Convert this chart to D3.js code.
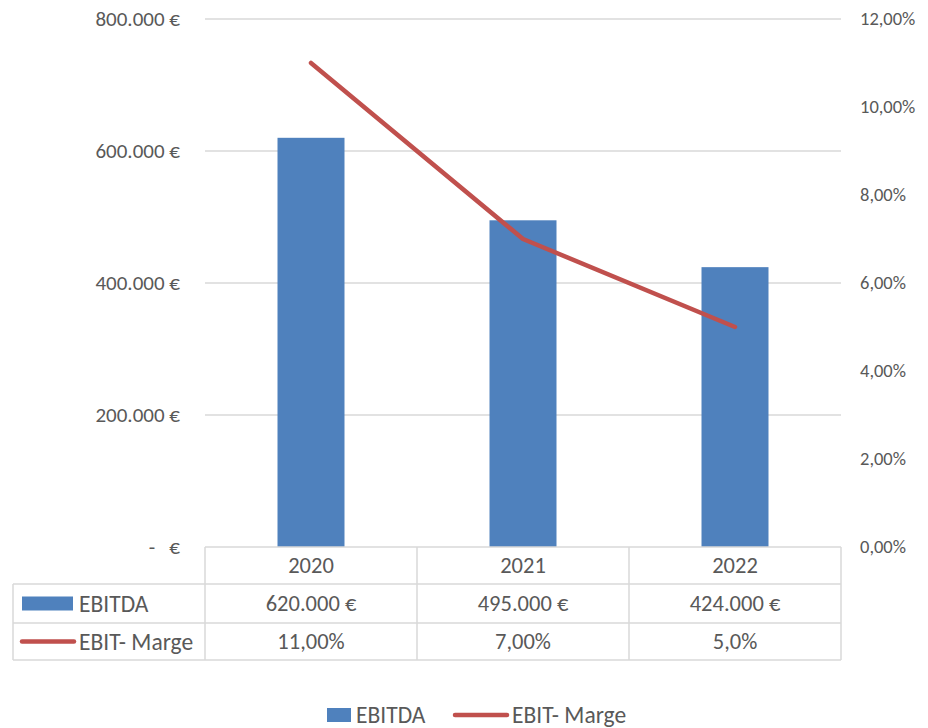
<!DOCTYPE html>
<html lang="de">
<head>
<meta charset="UTF-8">
<title>EBITDA</title>
<style>
body{margin:0;background:#fff;}
text{font-family:Carlito,"Open Sans","Liberation Sans",sans-serif;fill:#595959;}
</style>
</head>
<body>
<script src="https://cdn.jsdelivr.net/npm/d3@7"></script>
<script>
var years=['2020','2021','2022']
var ebitda=[620000,495000,424000]
var marge=[11,7,5]
var ebitdaLabels=['620.000 €','495.000 €','424.000 €']
var margeLabels=['11,00%','7,00%','5,0%']
var leftTicks=[0,200000,400000,600000,800000]
var rightTicks=[0,2,4,6,8,10,12]

var width=928,height=728
var plot={left:205,right:841,top:19,bottom:547}
var barColor='#4f81bd',lineColor='#c0504d',gridColor='#d9d9d9'
var tableFont=22.5,nameFont=23.5

var svg=d3.select('body').append('svg').attr('width',width).attr('height',height)

var x=d3.scaleBand().domain(years).range([plot.left,plot.right]).padding(0)
var y=d3.scaleLinear().domain([0,800000]).range([plot.bottom,plot.top])
var y2=d3.scaleLinear().domain([0,12]).range([plot.bottom,plot.top])

function euro(v){
    if(v===0) return '-   €'
    return d3.format(',')(v).replace(/,/g,'.')+' €'
}
function pct(v){return d3.format('.2f')(v).replace('.',',')+'%'}

// gridlines
svg.append('g').selectAll('line').data(leftTicks.slice(1)).enter().append('line')
    .attr('x1',plot.left).attr('x2',plot.right)
    .attr('y1',d=>y(d)).attr('y2',d=>y(d))
    .attr('stroke',gridColor).attr('stroke-width',1.3)

// left axis
var yAxis=d3.axisLeft(y).tickValues(leftTicks).tickFormat(euro).tickSize(0).tickPadding(25)
var gl=svg.append('g').attr('transform','translate('+plot.left+',0)').call(yAxis)
gl.select('.domain').remove()
gl.selectAll('text').attr('font-size',21).attr('dy','0.32em').style('white-space','pre')

// right axis
var y2Axis=d3.axisRight(y2).tickValues(rightTicks).tickFormat(pct).tickSize(0).tickPadding(19)
var gr=svg.append('g').attr('transform','translate('+plot.right+',0)').call(y2Axis)
gr.select('.domain').remove()
gr.selectAll('text').attr('font-size',18.5).attr('dy','0.32em')

// bars
var bw=x.bandwidth()*0.316
svg.append('g').selectAll('rect').data(ebitda).enter().append('rect')
    .attr('x',(d,i)=>x(years[i])+x.bandwidth()/2-bw/2)
    .attr('y',d=>y(d))
    .attr('width',bw)
    .attr('height',d=>plot.bottom-y(d))
    .attr('fill',barColor)

// line
var line=d3.line().x((d,i)=>x(years[i])+x.bandwidth()/2).y(d=>y2(d))
svg.append('path').datum(marge).attr('d',line)
    .attr('fill','none').attr('stroke',lineColor).attr('stroke-width',4.5)
    .attr('stroke-linecap','round').attr('stroke-linejoin','round')

// data table
var rows=[plot.bottom,584,623,660]
var tableLeft=13
var tg=svg.append('g')
tg.append('line').attr('x1',plot.left).attr('x2',plot.right).attr('y1',rows[0]).attr('y2',rows[0])
tg.selectAll('.h').data(rows.slice(1)).enter().append('line')
    .attr('x1',tableLeft).attr('x2',plot.right).attr('y1',d=>d).attr('y2',d=>d)
tg.append('line').attr('x1',tableLeft).attr('x2',tableLeft).attr('y1',rows[1]).attr('y2',rows[3])
tg.selectAll('.v').data(years).enter().append('line')
    .attr('x1',d=>x(d)).attr('x2',d=>x(d)).attr('y1',rows[0]).attr('y2',rows[3])
tg.append('line').attr('x1',plot.right).attr('x2',plot.right).attr('y1',rows[0]).attr('y2',rows[3])
tg.selectAll('line').attr('stroke',gridColor).attr('stroke-width',1.5)

function rowMid(r){return (rows[r]+rows[r+1])/2}
tg.selectAll('.yr').data(years).enter().append('text')
    .attr('x',d=>x(d)+x.bandwidth()/2).attr('y',rowMid(0)).attr('dy','0.35em')
    .attr('text-anchor','middle').attr('font-size',tableFont).text(d=>d)
tg.selectAll('.eb').data(ebitdaLabels).enter().append('text')
    .attr('x',(d,i)=>x(years[i])+x.bandwidth()/2).attr('y',rowMid(1)).attr('dy','0.35em')
    .attr('text-anchor','middle').attr('font-size',tableFont).text(d=>d)
tg.selectAll('.mg').data(margeLabels).enter().append('text')
    .attr('x',(d,i)=>x(years[i])+x.bandwidth()/2).attr('y',rowMid(2)).attr('dy','0.35em')
    .attr('text-anchor','middle').attr('font-size',tableFont).text(d=>d)

// table keys
tg.append('rect').attr('x',22).attr('y',rowMid(1)-7).attr('width',51).attr('height',14).attr('fill',barColor)
tg.append('text').attr('x',79).attr('y',rowMid(1)).attr('dy','0.35em').attr('font-size',nameFont).text('EBITDA')
tg.append('line').attr('x1',22).attr('x2',74).attr('y1',rowMid(2)).attr('y2',rowMid(2))
    .attr('stroke',lineColor).attr('stroke-width',4.5).attr('stroke-linecap','round')
tg.append('text').attr('x',79).attr('y',rowMid(2)).attr('dy','0.35em').attr('font-size',nameFont).text('EBIT- Marge')

// legend
var lg=svg.append('g').attr('transform','translate(0,715)')
lg.append('rect').attr('x',327).attr('y',-7).attr('width',24).attr('height',14).attr('fill',barColor)
lg.append('text').attr('x',356).attr('y',0).attr('dy','0.35em').attr('font-size',nameFont).text('EBITDA')
lg.append('line').attr('x1',455).attr('x2',507).attr('y1',0).attr('y2',0)
    .attr('stroke',lineColor).attr('stroke-width',4.5).attr('stroke-linecap','round')
lg.append('text').attr('x',512).attr('y',0).attr('dy','0.35em').attr('font-size',nameFont).text('EBIT- Marge')
</script>
</body>
</html>
